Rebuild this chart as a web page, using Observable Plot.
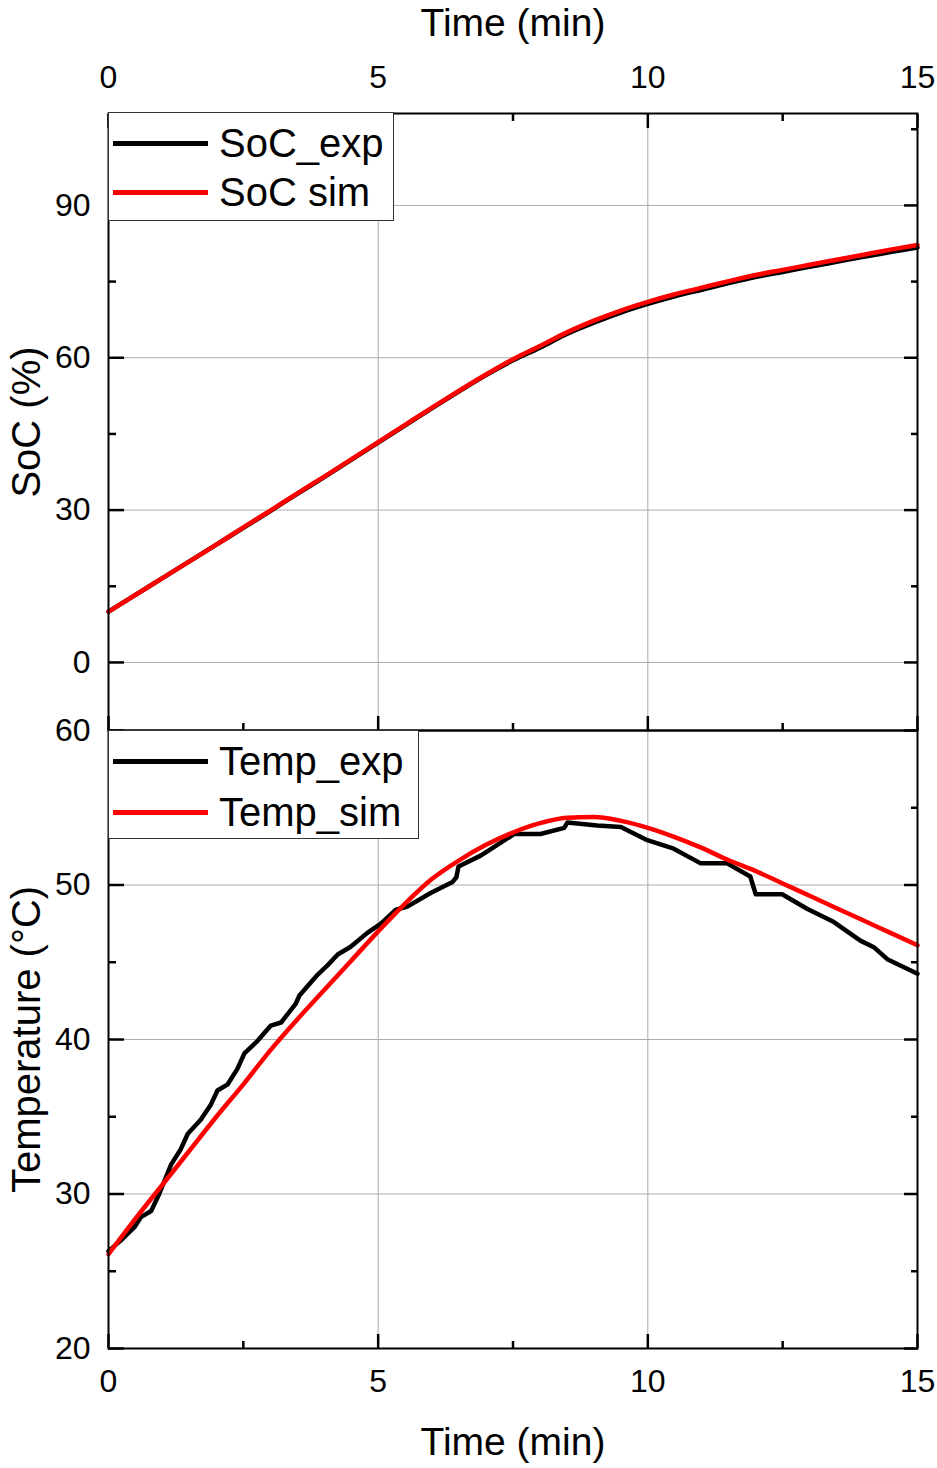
<!DOCTYPE html>
<html>
<head>
<meta charset="utf-8">
<script src="https://cdn.jsdelivr.net/npm/d3@7"></script>
<script src="https://cdn.jsdelivr.net/npm/@observablehq/plot@0.6"></script>
<style>
  body { margin: 0; background: #fff; }
  #wrap { position: relative; width: 937px; height: 1468px; font-family: "Liberation Sans", Arial, Helvetica, sans-serif; overflow: hidden; }
  #wrap svg { position: absolute; left: 0; overflow: visible; }
  .legend { position: absolute; left: 108px; background: #fff; border: 1px solid #333; box-sizing: border-box; }
  .sw { position: absolute; left: 4px; width: 95px; height: 5px; margin-top: -2.5px; }
  .lt { position: absolute; left: 110px; font-size: 40px; line-height: 40px; height: 40px; margin-top: -20px; color: #000; white-space: nowrap; }
</style>
</head>
<body>
<div id="wrap"></div>
<script>
// ---- data ----
const xTicks = [0, 5, 10, 15];
const xMinor = [2.5, 7.5, 12.5];
const socTicks = [0, 30, 60, 90];
const socMinor = [15, 45, 75, 105];
const tempTicks = [20, 30, 40, 50, 60];
const tempMinor = [25, 35, 45, 55];

const socTime = [0,0.5,1,1.5,2,2.5,3,3.5,4,4.5,5,5.5,6,6.5,7,7.5,8,8.5,9,9.5,10,10.5,11,11.5,12,12.5,13,13.5,14,14.5,15];
const socSim  = [10.0,13.3,16.6,19.9,23.2,26.6,29.9,33.3,36.6,40.0,43.4,46.8,50.2,53.5,56.7,59.7,62.3,65.0,67.3,69.3,71.0,72.5,73.8,75.1,76.3,77.3,78.3,79.3,80.3,81.3,82.2];
const socExp  = [10.0,13.3,16.6,19.9,23.2,26.5,29.8,33.2,36.5,39.9,43.3,46.7,50.1,53.4,56.6,59.5,62.0,64.7,66.9,68.9,70.6,72.1,73.4,74.7,75.9,76.9,77.9,78.9,79.9,80.8,81.7];

const tempSimTime = [0,0.5,1,1.5,2,2.5,3,3.5,4,4.5,5,5.5,6,6.5,7,7.5,8,8.5,9,9.5,10,10.5,11,11.5,12,12.5,13,13.5,14,14.5,15];
const tempSim     = [26.1,28.4,30.6,32.8,35.0,37.1,39.3,41.3,43.2,45.1,47.0,48.8,50.4,51.6,52.6,53.4,54.0,54.35,54.4,54.15,53.7,53.1,52.4,51.6,50.9,50.1,49.3,48.5,47.7,46.9,46.1];

const tempExpTime = [0,0.23,0.48,0.6,0.79,0.94,1.16,1.34,1.47,1.71,1.9,2.02,2.21,2.39,2.52,2.76,3.01,3.2,3.47,3.54,3.88,4.06,4.25,4.49,4.8,5.05,5.33,5.54,5.98,6.38,6.45,6.49,6.9,7.21,7.52,8.01,8.45,8.51,9.06,9.5,9.99,10.48,10.98,11.47,11.9,12.0,12.49,12.96,13.45,13.94,14.2,14.44,15];
const tempExp     = [26.3,27.0,27.85,28.5,28.9,30.0,31.9,32.9,33.9,34.8,35.8,36.7,37.1,38.1,39.1,39.9,40.9,41.1,42.3,42.85,44.2,44.8,45.5,46.0,46.9,47.5,48.4,48.6,49.5,50.2,50.5,51.2,51.9,52.6,53.3,53.3,53.7,54.05,53.85,53.75,52.9,52.35,51.4,51.4,50.55,49.4,49.4,48.45,47.6,46.4,45.95,45.2,44.25];

const socLegend = ["SoC_exp", "SoC sim"];
const tempLegend = ["Temp_exp", "Temp_sim"];
const seriesColors = ["#000000", "#ff0000"];

// ---- build tables ----
const socRows = socTime.map((t, i) => ({t, exp: socExp[i], sim: socSim[i]}));
const tSimRows = tempSimTime.map((t, i) => ({t, v: tempSim[i]}));
const tExpRows = tempExpTime.map((t, i) => ({t, v: tempExp[i]}));

const font = '"Liberation Sans", Arial, Helvetica, sans-serif';
const gridColor = "#ababab";
const tickW = 2.5;
const blank = () => "";

function frameAxes(yMajor, yMinor, opts) {
  const marks = [];
  if (opts.topLabels) {
    marks.push(Plot.axisX(xTicks, {anchor: "top", tickSize: -14, tickPadding: 40, fontSize: 32, label: null, strokeWidth: tickW}));
    marks.push(Plot.axisX(xMinor, {anchor: "top", tickSize: -7, tickFormat: blank, label: null, strokeWidth: tickW}));
  }
  marks.push(Plot.axisX(xTicks, {anchor: "bottom", tickSize: -14, tickPadding: 35, fontSize: 32, label: null, strokeWidth: tickW,
    tickFormat: opts.bottomLabels ? (d => String(d)) : blank}));
  marks.push(Plot.axisX(xMinor, {anchor: "bottom", tickSize: -7, tickFormat: blank, label: null, strokeWidth: tickW}));
  marks.push(Plot.axisY(yMajor, {anchor: "left", tickSize: -16, tickPadding: 34, fontSize: 32, label: null, strokeWidth: tickW}));
  marks.push(Plot.axisY(yMinor, {anchor: "left", tickSize: -8, tickFormat: blank, label: null, strokeWidth: tickW}));
  marks.push(Plot.axisY(yMajor, {anchor: "right", tickSize: -14, tickFormat: blank, label: null, strokeWidth: tickW}));
  marks.push(Plot.axisY(yMinor, {anchor: "right", tickSize: -7, tickFormat: blank, label: null, strokeWidth: tickW}));
  return marks;
}

const titleStyle = {text: d => d, fontSize: 40, fill: "#000", textAnchor: "middle", lineAnchor: "middle"};

const topPlot = Plot.plot({
  width: 937, height: 730,
  marginLeft: 108, marginRight: 20, marginTop: 113, marginBottom: 0,
  style: {fontFamily: font, background: "transparent", overflow: "visible", color: "#000"},
  x: {domain: [0, 15]},
  y: {domain: [-13.4, 108.1]},
  marks: [
    Plot.gridX([5, 10], {stroke: gridColor, strokeOpacity: 1, strokeWidth: 1}),
    Plot.gridY(socTicks, {stroke: gridColor, strokeOpacity: 1, strokeWidth: 1}),
    Plot.line(socRows, {x: "t", y: "exp", stroke: seriesColors[0], strokeWidth: 4.5, curve: "monotone-x"}),
    Plot.line(socRows, {x: "t", y: "sim", stroke: seriesColors[1], strokeWidth: 4.5, curve: "monotone-x"}),
    ...frameAxes(socTicks, socMinor, {topLabels: true, bottomLabels: false}),
    Plot.text(["Time (min)"], {...titleStyle, fontSize: 39, frameAnchor: "top", dy: -90}),
    Plot.text(["SoC (%)"], {...titleStyle, frameAnchor: "left", dx: -81, rotate: -90}),
    Plot.frame({stroke: "#000", strokeWidth: 2})
  ]
});

const bottomPlot = Plot.plot({
  width: 937, height: 738,
  marginLeft: 108, marginRight: 20, marginTop: 0, marginBottom: 120,
  style: {fontFamily: font, background: "transparent", overflow: "visible", color: "#000"},
  x: {domain: [0, 15]},
  y: {domain: [20, 60]},
  marks: [
    Plot.gridX([5, 10], {stroke: gridColor, strokeOpacity: 1, strokeWidth: 1}),
    Plot.gridY([30, 40, 50], {stroke: gridColor, strokeOpacity: 1, strokeWidth: 1}),
    Plot.line(tExpRows, {x: "t", y: "v", stroke: seriesColors[0], strokeWidth: 4.5}),
    Plot.line(tSimRows, {x: "t", y: "v", stroke: seriesColors[1], strokeWidth: 4.5, curve: "monotone-x"}),
    ...frameAxes(tempTicks, tempMinor, {topLabels: false, bottomLabels: true}),
    Plot.text(["Time (min)"], {...titleStyle, fontSize: 39, frameAnchor: "bottom", dy: 94}),
    Plot.text(["Temperature (°C)"], {...titleStyle, frameAnchor: "left", dx: -81, rotate: -90}),
    Plot.frame({stroke: "#000", strokeWidth: 2})
  ]
});

const wrap = document.getElementById("wrap");
topPlot.style.top = "0px";
bottomPlot.style.top = "730px";
wrap.appendChild(bottomPlot);
wrap.appendChild(topPlot);

function addLegend(labels, top, width, rowYs) {
  const box = document.createElement("div");
  box.className = "legend";
  box.style.top = top + "px";
  box.style.width = width + "px";
  box.style.height = "109px";
  labels.forEach((lab, i) => {
    const sw = document.createElement("div");
    sw.className = "sw";
    sw.style.top = rowYs[i] + "px";
    sw.style.background = seriesColors[i];
    box.appendChild(sw);
    const tx = document.createElement("div");
    tx.className = "lt";
    tx.style.top = rowYs[i] + "px";
    tx.textContent = lab;
    box.appendChild(tx);
  });
  wrap.appendChild(box);
}
addLegend(socLegend, 112, 286, [30, 79]);
addLegend(tempLegend, 730, 311, [30, 81]);
</script>
</body>
</html>
